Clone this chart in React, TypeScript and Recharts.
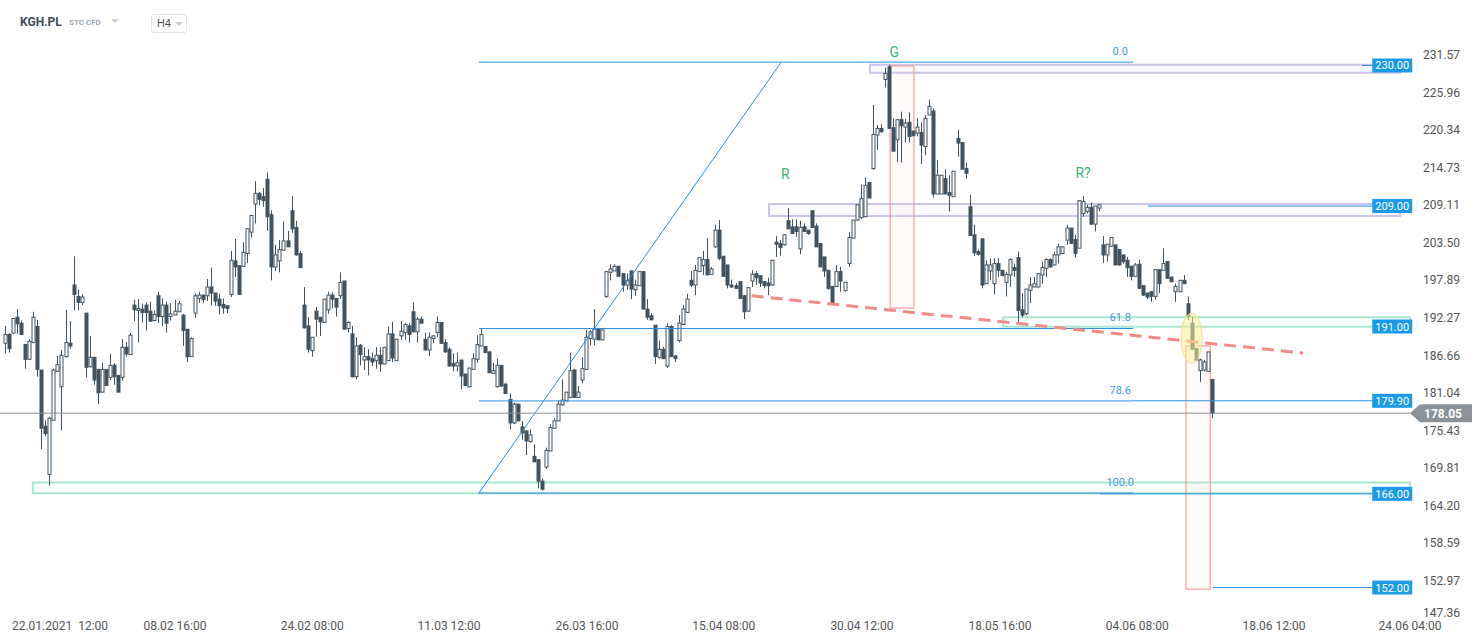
import React from "react";
import {
  ComposedChart, Bar, XAxis, YAxis, ReferenceLine, ReferenceArea, ReferenceDot,
} from "recharts";

// H4 candles, KGH.PL
const opens = [
  188.5, 189.8, 190.0, 192.4, 191.5, 188.3, 186.1, 188.6, 191.0, 184.5, 176.1, 168.9, 177.0, 184.3, 182.0, 186.5, 188.5, 197.2, 195.5, 194.6,
  193.0, 185.0, 186.4, 184.6, 181.2, 184.6, 183.4, 185.2, 183.7, 183.4, 187.9, 186.8, 194.2, 193.4, 193.6, 194.2, 193.3, 191.9, 195.6, 192.5,
  194.2, 192.5, 192.7, 193.2, 192.7, 190.6, 186.5, 193.0, 195.2, 195.7, 195.6, 196.9, 196.0, 195.1, 194.3, 194.1, 195.8, 200.8, 200.1, 200.0,
  201.9, 205.1, 209.3, 210.9, 210.4, 213.0, 207.7, 199.9, 200.8, 202.4, 203.8, 208.3, 205.8, 201.9, 194.2, 191.1, 187.4, 193.3, 192.4, 191.6,
  193.5, 195.7, 195.2, 195.6, 197.8, 190.7, 189.9, 183.5, 188.2, 186.0, 186.5, 186.2, 185.9, 186.7, 185.4, 185.9, 189.9, 185.9, 189.6, 190.1,
  191.1, 193.2, 190.2, 192.1, 189.1, 187.5, 189.2, 190.1, 191.6, 188.6, 187.6, 185.5, 185.1, 186.0, 183.9, 182.0, 184.6, 186.1, 188.1, 188.0,
  187.2, 184.0, 182.0, 185.2, 182.4, 180.1, 176.6, 179.4, 176.0, 175.4, 173.8, 171.6, 171.1, 167.9, 170.0, 172.4, 175.8, 176.9, 179.3, 179.9,
  180.4, 184.5, 180.4, 183.0, 184.6, 189.2, 189.1, 190.6, 189.0, 195.5, 199.1, 199.3, 200.0, 198.9, 197.2, 199.3, 196.5, 197.1, 199.2, 193.6,
  192.6, 191.2, 186.4, 187.6, 185.1, 191.0, 186.6, 188.9, 191.3, 193.1, 197.9, 197.2, 199.2, 200.1, 201.0, 198.8, 202.9, 205.4, 201.5, 200.2,
  197.2, 197.1, 197.7, 195.6, 193.3, 197.8, 198.9, 198.6, 197.7, 197.5, 197.2, 203.6, 203.4, 203.2, 206.8, 205.9, 205.9, 202.6, 205.9, 205.4,
  208.3, 206.0, 203.4, 201.4, 199.4, 197.0, 197.0, 199.2, 196.4, 200.4, 204.2, 206.9, 207.3, 207.4, 212.5, 214.6, 219.6, 220.6, 227.9, 229.8,
  220.7, 218.9, 221.9, 220.8, 221.5, 220.2, 219.9, 220.0, 217.9, 222.6, 223.2, 210.8, 210.8, 213.1, 211.0, 210.4, 219.1, 218.5, 214.6, 208.9,
  204.7, 202.2, 204.1, 197.4, 199.3, 197.4, 200.4, 199.4, 197.6, 198.7, 199.8, 201.3, 193.5, 192.9, 196.4, 196.9, 196.9, 198.7, 199.7, 201.0,
  200.2, 201.7, 201.9, 203.9, 205.7, 204.0, 202.7, 207.9, 208.2, 208.8, 206.3, 208.7, 203.2, 201.7, 203.0, 203.2, 202.5, 201.7, 200.9, 200.0,
  198.5, 200.3, 197.1, 196.0, 196.2, 195.5, 199.5, 199.4, 200.7, 198.4, 196.2, 196.2, 197.9, 194.4, 191.5, 187.7, 184.4, 184.5, 184.3, 183.1,
];
const highs = [
  191.1, 190.0, 192.3, 193.6, 191.9, 188.3, 189.1, 193.2, 192.0, 184.5, 177.0, 177.5, 184.7, 186.6, 187.5, 193.5, 191.8, 201.5, 196.5, 195.8,
  193.0, 189.6, 186.4, 184.6, 185.6, 184.6, 186.9, 185.5, 183.7, 189.1, 188.7, 190.0, 195.0, 195.1, 194.4, 194.6, 194.7, 193.4, 196.2, 195.2,
  194.7, 194.5, 195.0, 194.8, 192.9, 190.6, 189.4, 195.9, 196.2, 195.7, 198.1, 199.8, 196.0, 195.9, 195.2, 194.1, 202.3, 204.1, 200.1, 203.6,
  205.7, 207.6, 212.7, 211.1, 211.7, 214.0, 208.4, 203.2, 203.9, 206.7, 205.3, 210.5, 206.8, 202.3, 196.9, 192.4, 189.4, 193.9, 192.4, 195.1,
  196.2, 196.1, 195.2, 199.1, 197.8, 191.8, 191.1, 189.4, 188.4, 187.9, 187.6, 187.1, 187.9, 187.9, 187.9, 191.0, 191.7, 189.2, 191.8, 191.5,
  191.5, 194.6, 192.4, 192.5, 190.1, 190.1, 189.7, 192.5, 191.6, 189.1, 187.9, 187.0, 187.1, 186.0, 183.9, 184.8, 187.0, 189.7, 190.7, 188.0,
  187.3, 185.6, 186.2, 185.2, 182.5, 181.0, 179.6, 179.4, 176.9, 175.5, 175.6, 173.4, 171.1, 168.3, 172.9, 176.4, 177.3, 180.0, 183.1, 181.2,
  187.1, 184.7, 182.1, 186.4, 190.5, 190.5, 193.6, 190.6, 190.5, 199.3, 200.3, 200.3, 200.0, 198.9, 198.9, 199.3, 198.0, 199.2, 199.2, 195.1,
  193.0, 191.2, 188.9, 188.0, 191.5, 191.2, 186.7, 192.7, 194.2, 195.9, 199.3, 200.2, 201.4, 202.3, 204.2, 199.9, 206.2, 206.9, 201.5, 200.2,
  198.0, 197.5, 197.7, 195.7, 196.9, 199.4, 199.3, 198.6, 197.8, 198.3, 200.9, 204.5, 203.9, 204.8, 208.7, 207.0, 207.0, 206.8, 206.4, 205.4,
  208.4, 206.4, 203.4, 201.4, 199.4, 197.0, 200.2, 199.9, 197.6, 205.1, 206.9, 209.2, 212.2, 213.3, 212.5, 224.1, 221.1, 221.2, 229.7, 230.1,
  222.1, 222.0, 223.1, 222.0, 223.0, 220.2, 222.1, 221.5, 222.6, 224.9, 223.6, 215.9, 213.6, 214.5, 213.6, 214.2, 220.4, 218.5, 215.5, 210.7,
  206.2, 202.5, 204.1, 200.9, 201.2, 201.2, 201.2, 199.4, 199.2, 201.2, 200.4, 202.2, 196.0, 196.6, 198.4, 198.4, 198.9, 200.7, 201.2, 201.2,
  202.2, 203.4, 203.0, 206.2, 205.7, 204.7, 209.8, 210.5, 209.2, 209.5, 209.0, 209.2, 204.5, 203.3, 204.3, 203.2, 202.5, 201.7, 201.4, 200.0,
  200.5, 201.0, 197.2, 196.0, 196.2, 199.5, 199.5, 202.7, 200.7, 198.4, 197.4, 197.9, 198.7, 195.5, 192.5, 187.8, 186.2, 186.0, 187.2, 183.1,
];
const lows = [
  187.0, 187.1, 189.9, 189.9, 189.8, 184.7, 186.0, 188.6, 183.5, 172.7, 174.6, 167.2, 177.0, 184.3, 175.5, 186.4, 187.7, 193.4, 193.4, 194.2,
  183.4, 184.9, 182.3, 179.4, 181.1, 182.2, 183.0, 182.3, 181.2, 182.9, 186.5, 186.8, 191.8, 188.6, 191.6, 190.4, 191.7, 191.8, 191.5, 191.1,
  190.1, 191.9, 192.7, 193.2, 188.1, 185.7, 186.5, 192.3, 194.5, 194.5, 194.8, 194.1, 194.1, 192.8, 192.9, 193.0, 195.4, 198.4, 195.8, 200.0,
  200.5, 204.3, 206.4, 209.1, 208.9, 205.3, 197.9, 199.3, 199.1, 202.3, 202.9, 205.0, 201.6, 199.8, 190.7, 187.1, 186.5, 189.5, 189.6, 191.6,
  192.9, 193.7, 192.5, 195.1, 190.6, 190.1, 183.4, 183.1, 185.2, 184.5, 183.7, 185.1, 184.7, 184.2, 185.4, 185.9, 185.7, 185.9, 189.0, 189.0,
  188.6, 190.2, 188.6, 191.4, 187.4, 186.6, 188.5, 189.4, 188.4, 187.1, 185.0, 184.3, 184.3, 181.6, 182.2, 181.9, 184.6, 185.6, 188.1, 187.1,
  184.1, 184.0, 181.9, 182.0, 181.0, 175.6, 176.4, 176.9, 174.1, 171.8, 173.7, 170.7, 166.8, 166.5, 169.7, 172.4, 175.7, 176.9, 179.2, 179.9,
  180.4, 180.3, 180.3, 182.5, 184.6, 188.2, 188.2, 189.0, 189.0, 195.3, 197.9, 199.3, 198.5, 196.2, 196.5, 195.1, 195.6, 197.1, 193.6, 192.0,
  192.0, 185.4, 186.2, 186.2, 184.8, 186.5, 185.7, 188.6, 191.3, 193.1, 196.9, 195.7, 199.2, 198.7, 198.7, 198.8, 202.8, 200.9, 198.5, 196.7,
  196.8, 196.7, 195.1, 192.1, 193.2, 196.9, 197.2, 196.9, 196.7, 195.7, 197.1, 201.4, 201.6, 203.1, 205.6, 204.9, 204.4, 201.8, 205.2, 204.7,
  205.8, 202.9, 199.9, 198.4, 196.5, 194.3, 196.9, 196.2, 196.2, 199.9, 204.1, 206.9, 207.1, 207.4, 210.2, 214.4, 217.4, 220.0, 226.7, 220.6,
  217.2, 215.6, 215.5, 218.5, 218.5, 219.5, 219.4, 215.3, 216.6, 222.6, 210.3, 210.8, 210.8, 210.8, 208.2, 210.4, 216.4, 214.5, 213.1, 204.6,
  201.6, 201.6, 196.7, 197.4, 197.9, 195.8, 198.4, 198.6, 195.5, 196.9, 198.4, 191.7, 192.4, 192.7, 194.5, 196.9, 196.9, 197.4, 198.4, 199.8,
  200.1, 200.4, 201.8, 203.2, 203.4, 201.3, 202.7, 207.4, 207.9, 206.2, 205.2, 208.2, 200.5, 200.7, 202.9, 200.2, 200.1, 200.4, 198.4, 197.9,
  198.5, 196.6, 195.6, 195.1, 194.7, 195.0, 196.0, 199.4, 198.2, 197.7, 194.7, 196.2, 197.4, 192.0, 187.5, 185.8, 182.7, 184.3, 184.3, 177.3,
];
const closes = [
  189.8, 187.7, 192.2, 191.4, 189.8, 186.1, 188.8, 192.4, 184.6, 175.8, 175.0, 177.3, 184.5, 185.3, 186.7, 188.6, 188.1, 195.8, 194.6, 195.4,
  184.9, 186.4, 183.0, 181.1, 184.6, 182.2, 185.2, 183.5, 181.2, 187.9, 186.9, 189.7, 193.5, 193.7, 193.1, 193.1, 191.8, 192.8, 192.5, 194.2,
  191.5, 192.9, 193.3, 194.4, 190.4, 186.5, 189.2, 195.6, 195.7, 195.0, 196.9, 196.0, 194.8, 194.1, 193.8, 193.7, 200.9, 199.9, 195.8, 202.1,
  205.6, 207.6, 210.9, 210.0, 209.8, 207.4, 199.9, 201.7, 202.5, 203.8, 202.9, 205.6, 201.7, 199.8, 190.8, 187.6, 189.4, 192.1, 191.7, 195.1,
  195.7, 195.1, 193.9, 197.6, 190.6, 191.6, 183.5, 188.1, 186.8, 186.5, 186.0, 185.7, 186.7, 185.4, 187.9, 189.9, 186.3, 189.1, 190.3, 191.3,
  189.8, 190.2, 192.1, 191.5, 187.5, 189.4, 189.6, 191.6, 188.5, 187.2, 185.1, 185.1, 185.6, 183.6, 182.2, 184.8, 186.2, 188.3, 189.8, 187.1,
  184.1, 184.4, 185.2, 182.1, 181.0, 176.6, 179.4, 176.9, 175.1, 173.9, 174.8, 170.8, 167.9, 166.7, 172.5, 175.9, 176.9, 179.4, 180.0, 181.2,
  184.4, 180.4, 181.2, 184.7, 189.4, 190.2, 190.6, 189.0, 190.5, 199.2, 199.6, 200.0, 198.5, 197.2, 197.9, 196.6, 197.2, 199.2, 193.6, 192.4,
  192.0, 186.5, 187.6, 186.2, 191.0, 186.5, 186.2, 191.5, 193.6, 195.1, 197.2, 199.4, 201.3, 201.0, 198.7, 199.6, 205.4, 201.2, 198.5, 197.2,
  196.9, 196.7, 195.2, 193.2, 196.8, 198.8, 198.3, 197.5, 197.1, 197.1, 200.9, 203.3, 202.8, 204.7, 205.6, 204.9, 205.2, 205.8, 205.2, 204.9,
  205.8, 202.9, 199.9, 199.3, 196.7, 194.6, 199.2, 197.8, 197.6, 204.3, 206.9, 209.2, 210.1, 212.1, 210.2, 219.7, 220.6, 220.1, 228.8, 220.6,
  217.2, 221.9, 221.0, 221.4, 219.4, 219.5, 220.8, 218.1, 222.1, 223.9, 210.8, 213.6, 213.6, 210.8, 210.6, 214.2, 218.4, 214.5, 213.9, 204.6,
  202.0, 201.8, 197.2, 200.2, 200.2, 200.4, 199.4, 198.6, 198.8, 201.0, 199.4, 193.4, 192.7, 196.6, 197.2, 197.4, 198.9, 199.8, 201.0, 199.9,
  201.7, 202.9, 202.9, 205.7, 203.4, 201.9, 209.8, 209.7, 208.8, 206.3, 209.0, 209.2, 201.7, 203.3, 204.3, 200.2, 200.2, 200.7, 199.8, 198.5,
  200.2, 196.7, 195.7, 195.4, 195.5, 199.5, 197.4, 200.4, 198.2, 197.7, 197.0, 197.9, 197.4, 192.5, 187.6, 186.0, 186.0, 185.7, 187.2, 178.05,
];

const yTicks = [147.36, 152.97, 158.59, 164.2, 169.81, 175.43, 181.04, 186.66, 192.27, 197.89, 203.5, 209.11, 214.73, 220.34, 225.96, 231.57];
const xTickLabels = ["22.01.2021\u00a0\u00a012:00", "08.02 16:00", "24.02 08:00", "11.03 12:00", "26.03 16:00", "15.04 08:00", "30.04 12:00", "18.05 16:00", "04.06 08:00", "18.06 12:00", "24.06 04:00"];
const xTickIdx = [13.6, 42.1, 76.1, 110.0, 144.2, 178.1, 212.3, 246.5, 280.5, 314.4, 348.1];

// drawing tools (bar index / price)
const fibLow = 166.1;
const fibHigh = 230.5;
const fibStart = 117.4;
const fibPeak = 192.3;
const fibEnd = 279.5;
const fibLevels = ["0.0", "61.8", "78.6", "100.0"];
const levelPrices = [230.0, 209.0, 191.0, 179.9, 166.0, 152.0];
const levelFrom = [336.2, 283.2, 247.3, 279.5, 271.3, 299.3];
const lastPrice = 178.05;

const X_MIN = -1.24;
const X_MAX = 348.1;
const Y_MIN = 147.36;
const Y_MAX = 238.29;

const CANDLE = "#415360";
const BLUE = "#2a8fe3";
const LABEL_BLUE = "#1b9be6";
const GREEN = "#35b779";

const candles = opens.map((o, i) => ({
  i, o, h: highs[i], l: lows[i], c: closes[i], range: [lows[i], highs[i]],
}));

const CandleShape = (props: any) => {
  const { x, y, width, height, payload } = props;
  if (x == null || y == null || !payload) return null;
  const top = Math.min(y, y + height);
  const span = Math.abs(height);
  const { o, c, h, l } = payload;
  const ppu = h - l > 0 ? span / (h - l) : 0;
  const yOf = (v: number) => top + (h - v) * ppu;
  const cx = Math.round(x + width / 2) + 0.5;
  const bTop = yOf(Math.max(o, c));
  const bBot = yOf(Math.min(o, c));
  const bull = c >= o;
  return (
    <g>
      <line x1={cx} x2={cx} y1={top} y2={top + span} stroke={CANDLE} strokeWidth={1} />
      <rect x={cx - 1.5} y={bTop} width={3} height={Math.max(bBot - bTop, 1)}
        fill={bull ? "#fff" : CANDLE} stroke={CANDLE} strokeWidth={1} />
    </g>
  );
};

const PriceTick = ({ x, y, payload }: any) => (
  <text x={x + 13} y={y + (payload.value === yTicks[0] ? -6 : 0)} dy={4} fontSize={12} fill="#555">
    {payload.value.toFixed(2)}
  </text>
);

const TimeTick = ({ x, y, index }: any) => (
  <text x={index === 0 ? Math.max(x, 60) : x} y={y + 11} fontSize={12} fill="#555" textAnchor="middle">
    {xTickLabels[index] ?? ""}
  </text>
);

const LevelTag = (label: string) => (p: any) => (
  <g>
    <rect x={p.cx - 20} y={p.cy - 7} width={40} height={14} fill={LABEL_BLUE} />
    <text x={p.cx} y={p.cy + 4} fontSize={11} fill="#fff" textAnchor="middle">{label}</text>
  </g>
);

const LastTag = (p: any) => (
  <g>
    <path d={`M${p.cx},${p.cy} L${p.cx + 10},${p.cy - 9} L${p.cx + 62},${p.cy - 9} L${p.cx + 62},${p.cy + 9} L${p.cx + 10},${p.cy + 9} Z`} fill="#8a9297" />
    <text x={p.cx + 14} y={p.cy + 4.5} fontSize={12} fontWeight="bold" fill="#fff">{lastPrice.toFixed(2)}</text>
  </g>
);

const Label = (text: string, color: string, size: number) => (p: any) => (
  <text x={p.cx} y={p.cy} fontSize={size} fill={color} textAnchor="middle">{text}</text>
);

const Ellipse = (p: any) => (
  <ellipse cx={p.cx} cy={p.cy} rx={10.5} ry={25} fill="rgba(250,238,150,0.55)" stroke="#eee29a" strokeWidth={1} />
);

export default function App() {
  const fibPrice = (lvl: string) => fibHigh - (parseFloat(lvl) / 100) * (fibHigh - fibLow);
  return (
    <div style={{ position: "relative", width: 1482, height: 643, fontFamily: "Roboto, sans-serif", background: "#fff" }}>
      <style>{`body{margin:0}`}</style>
      <div style={{ position: "absolute", left: 20, top: 15, fontSize: 12, fontWeight: 700, color: "#3f4b55", zIndex: 2 }}>KGH.PL</div>
      <div style={{ position: "absolute", left: 69, top: 18, fontSize: 8, fontWeight: 700, color: "#9aa6b0", zIndex: 2 }}>STC CFD</div>
      <div style={{ position: "absolute", left: 111, top: 19, width: 0, height: 0, borderLeft: "4px solid transparent", borderRight: "4px solid transparent", borderTop: "4px solid #c8ced3", zIndex: 2 }} />
      <div style={{ position: "absolute", left: 151, top: 14, width: 34, height: 17, border: "1px solid #dfe3e7", borderRadius: 3, zIndex: 2, background: "#fff" }}>
        <span style={{ position: "absolute", left: 5, top: 2, fontSize: 11, color: "#555" }}>H4</span>
        <span style={{ position: "absolute", left: 23, top: 7, width: 0, height: 0, borderLeft: "4px solid transparent", borderRight: "4px solid transparent", borderTop: "4px solid #c8ced3" }} />
      </div>
      <ComposedChart width={1482} height={643} data={candles} margin={{ top: 10, right: 0, bottom: 0, left: 0 }}>
        <XAxis dataKey="i" type="number" domain={[X_MIN, X_MAX]} allowDataOverflow ticks={xTickIdx} interval={0}
          axisLine={false} tickLine={false} tickSize={0} tickMargin={0} height={24.4} tick={<TimeTick />} />
        <YAxis orientation="right" type="number" domain={[Y_MIN, Y_MAX]} allowDataOverflow ticks={yTicks} interval={0}
          axisLine={false} tickLine={false} tickSize={0} tickMargin={0} width={72} tick={<PriceTick />} />

        {/* zones */}
        <ReferenceArea x1={214.3} x2={345.6} y1={228.9} y2={230.1} fill="rgba(232,226,250,0.35)" stroke="#cdc3ea" strokeWidth={2} ifOverflow="visible" />
        <ReferenceArea x1={189.3} x2={345.6} y1={207.5} y2={209.3} fill="rgba(232,226,250,0.35)" stroke="#cdc3ea" strokeWidth={2} ifOverflow="visible" />
        <ReferenceArea x1={247.3} x2={X_MAX} y1={190.97} y2={192.37} fill="rgba(215,247,235,0.35)" stroke="#a9e7cf" strokeWidth={2} ifOverflow="visible" />
        <ReferenceArea x1={6.9} x2={X_MAX} y1={166.1} y2={167.7} fill="rgba(215,247,235,0.35)" stroke="#a9e7cf" strokeWidth={2} ifOverflow="visible" />
        <ReferenceArea x1={219.3} x2={225.2} y1={193.76} y2={229.93} fill="rgba(250,225,225,0.3)" stroke="#f08a8a" strokeWidth={1} ifOverflow="visible" />
        <ReferenceArea x1={292.6} x2={298.6} y1={151.77} y2={188.1} fill="rgba(250,225,225,0.3)" stroke="#f08a8a" strokeWidth={1} ifOverflow="visible" />

        {/* fibonacci */}
        <ReferenceLine segment={[{ x: fibStart, y: fibLow }, { x: fibPeak, y: fibHigh }]} stroke={BLUE} strokeWidth={1} ifOverflow="visible" />
        {fibLevels.map((lvl) => (
          <ReferenceLine key={lvl} segment={[{ x: fibStart, y: fibPrice(lvl) }, { x: fibEnd, y: fibPrice(lvl) }]} stroke={BLUE} strokeWidth={1} ifOverflow="visible" />
        ))}
        {fibLevels.map((lvl) => (
          <ReferenceDot key={"t" + lvl} x={276.3} y={fibPrice(lvl) + 1.1} r={0} ifOverflow="visible" shape={Label(lvl, "#3f9be8", 11)} />
        ))}

        {/* levels */}
        {levelPrices.map((p, k) =>
          k === 2 ? null : (
            <ReferenceLine key={"l" + p} segment={[{ x: levelFrom[k], y: p }, { x: 338.7, y: p }]} stroke={BLUE} strokeWidth={1} ifOverflow="visible" />
          ))}

        {/* neckline */}
        <ReferenceLine segment={[{ x: 185.0, y: 195.6 }, { x: 321.6, y: 187.03 }]} stroke="#f28a86" strokeWidth={3} strokeDasharray="12 7" ifOverflow="visible" />

        <ReferenceLine y={lastPrice} stroke="#8c969c" strokeWidth={1} ifOverflow="visible" />

        <Bar dataKey="range" barSize={4} isAnimationActive={false} shape={(p: any) => <CandleShape {...p} />} />

        <ReferenceDot x={294.0} y={189.24} r={0} ifOverflow="visible" shape={Ellipse} />

        {levelPrices.map((p) => (
          <ReferenceDot key={"tag" + p} x={343.7} y={p} r={0} ifOverflow="visible" shape={LevelTag(p.toFixed(2))} />
        ))}
        <ReferenceDot x={X_MAX} y={lastPrice} r={0} ifOverflow="visible" shape={LastTag} />

        <ReferenceDot x={220.3} y={231.3} r={0} ifOverflow="visible" shape={Label("G", GREEN, 14)} />
        <ReferenceDot x={193.3} y={213.1} r={0} ifOverflow="visible" shape={Label("R", GREEN, 14)} />
        <ReferenceDot x={267.1} y={213.2} r={0} ifOverflow="visible" shape={Label("R?", GREEN, 14)} />
      </ComposedChart>
    </div>
  );
}
